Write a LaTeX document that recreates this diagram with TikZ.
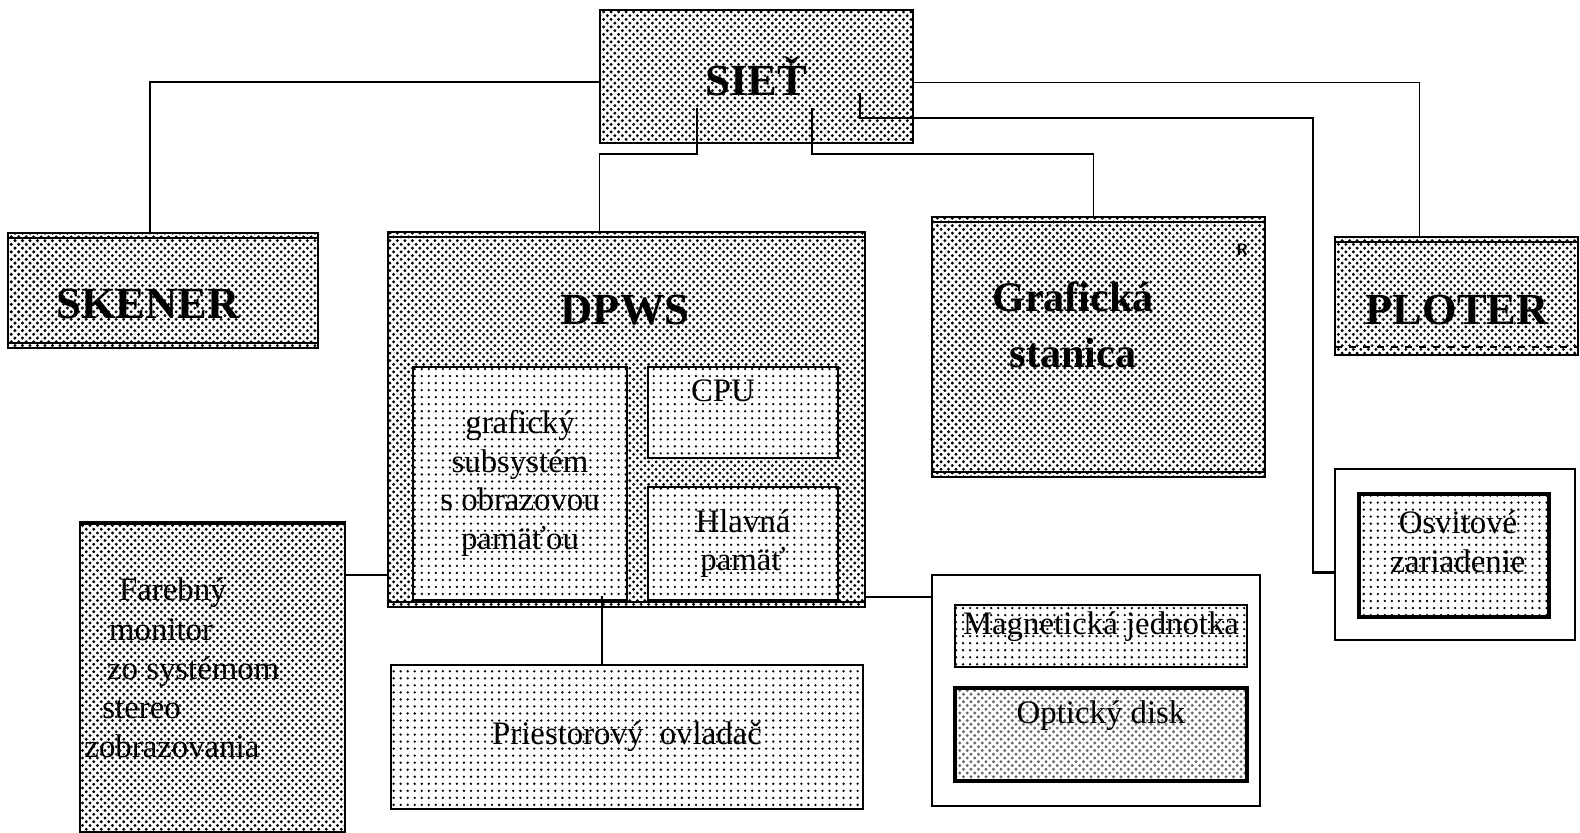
\documentclass[tikz,border=0pt]{standalone}
\usepackage{fontspec}
\setmainfont{Liberation Serif}
\usetikzlibrary{calc,patterns}

\def\pxu{0.015cm}
\newcommand{\headfont}{\fontsize{19}{22}\selectfont\bfseries}
\newcommand{\boxfont}{\fontsize{14}{16.5}\selectfont}

\pgfdeclarepatternformonly{heavy dots}{\pgfqpoint{-1pt}{-1pt}}{\pgfqpoint{4.2pt}{4.2pt}}{\pgfqpoint{3.2pt}{3.2pt}}{%
  \pgfpathcircle{\pgfqpoint{0pt}{0pt}}{0.7pt}%
  \pgfpathcircle{\pgfqpoint{1.6pt}{1.6pt}}{0.7pt}%
  \pgfusepath{fill}}
\pgfdeclarepatternformonly{light dots}{\pgfqpoint{-1pt}{-1pt}}{\pgfqpoint{4pt}{4pt}}{\pgfqpoint{3pt}{3pt}}{%
  \pgfpathcircle{\pgfqpoint{0pt}{0pt}}{0.55pt}%
  \pgfusepath{fill}}

\begin{document}
\begin{tikzpicture}[
    x=0.015cm, y=-0.015cm,
    wh/.style 2 args={minimum width=#1*\pxu, minimum height=#2*\pxu},
    darkbox/.style={draw, line width=1.1pt, inner sep=0pt, outer sep=0pt, preaction={fill=white}, pattern=heavy dots, pattern color=black},
    lightbox/.style={draw, line width=1.1pt, inner sep=0pt, outer sep=0pt, preaction={fill=white}, pattern=light dots, pattern color=black, font=\boxfont, align=center},
    plainbox/.style={draw, line width=1.1pt, inner sep=0pt, outer sep=0pt, fill=white},
    ruled/.style={path picture={
        \draw[line width=0.7pt] ([yshift=-0.075cm]path picture bounding box.north west) -- ([yshift=-0.075cm]path picture bounding box.north east);
        \draw[line width=0.7pt] ([yshift=0.075cm]path picture bounding box.south west) -- ([yshift=0.075cm]path picture bounding box.south east);}},
    dashruled/.style={path picture={
        \draw[line width=0.7pt] ([yshift=-0.075cm]path picture bounding box.north west) -- ([yshift=-0.075cm]path picture bounding box.north east);
        \draw[line width=0.7pt, dashed] ([yshift=0.12cm]path picture bounding box.south west) -- ([yshift=0.12cm]path picture bounding box.south east);}},
    heavytop/.style={path picture={
        \draw[line width=2.4pt] (path picture bounding box.north west) -- (path picture bounding box.north east);}},
    head/.style={font=\headfont, inner sep=0pt},
    txt/.style={font=\boxfont, align=center, inner sep=0pt},
    link/.style={line width=0.8pt}
  ]
    \useasboundingbox[fill=white] (0,0) rectangle (1580,833);

    % network on top
    \node[darkbox, wh={313}{133}, font=\headfont] (siet) at (756.5,76.5) {SIEŤ};

    % scanner and plotter
    \node[darkbox, ruled, wh={310}{115}] (skener) at (163,290.5) {};
    \node[head] (skener-txt) at (148,304) {SKENER};
    \node[darkbox, dashruled, wh={243}{118}] (ploter) at (1456.5,296) {};
    \node[head] (ploter-txt) at (1457,310) {PLOTER};

    % DPWS with its parts
    \node[darkbox, ruled, wh={477}{375}] (dpws) at (626.5,419.5) {};
    \node[head] (dpws-txt) at (625,310) {DPWS};
    \node[lightbox, wh={214}{233}] (gfx) at (520,483.5) {grafický\\subsystém\\s obrazovou\\pamäťou};
    \node[lightbox, wh={190}{91}] (cpu) at (743,412.5) {};
    \node[txt] (cpu-txt) at (723,391) {CPU};
    \node[lightbox, wh={190}{113}] (ram) at (743,543.5) {Hlavná\\pamäť};

    % graphics station
    \node[darkbox, ruled, wh={333}{260}] (graf) at (1098.5,347) {};
    \node[head, align=center, font=\fontsize{18}{24}\selectfont\bfseries] (graf-txt) at (1073,325) {Grafická\\stanica};
    \node[font=\sffamily\bfseries\fontsize{7}{8}\selectfont, inner sep=0pt] (graf-r) at (1242,250) {R};

    % exposure unit
    \node[plainbox, wh={240}{171}] (osvit) at (1455,554.5) {};
    \node[lightbox, line width=1.6pt, wh={190}{123}] (osvit-in) at (1454,555.5) {};
    \node[txt] (osvit-txt) at (1458,542) {Osvitové\\zariadenie};

    % monitor and space controller
    \node[darkbox, heavytop, wh={265}{310}] (monitor) at (212.5,677) {};
    \node[txt, align=left, anchor=west, font=\fontsize{14}{16.7}\selectfont] (monitor-txt) at (84,668)
      {\hspace*{0.52cm}Farebný\\\hspace*{0.37cm}monitor\\\hspace*{0.34cm}zo systémom\\\hspace*{0.27cm}stereo\\zobrazovania};
    \node[lightbox, wh={472}{144}] (priest) at (627,737) {Priestorový~ ovladač};

    % storage
    \node[plainbox, wh={328}{231}] (store) at (1096,690.5) {};
    \node[lightbox, wh={292}{62}] (magnet) at (1101,636) {};
    \node[txt] (magnet-txt) at (1101,627) {Magnetická jednotka};
    \node[lightbox, pattern=heavy dots, pattern color=black!60, line width=1.6pt, wh={292}{93}] (optic) at (1101,734.5) {};
    \node[txt] (optic-txt) at (1101,716) {Optický disk};

    % connectors
    \coordinate (sietA) at (697,108);
    \coordinate (sietB) at (812,108);
    \coordinate (sietR) at (860,93);
    \coordinate (monlink) at ($(monitor.north east)+(0,53)$);
    \coordinate (storelink) at ($(dpws.south east)+(0,-10)$);

    \draw[link] ($(siet.west)+(0,5.5)$) -| ($(skener.north)+(-13,0)$);
    \draw[link] ($(siet.east)+(0,6)$) -| ($(ploter.north)+(-37,0)$);
    \draw[link] (sietA) -- ++(0,46) -| ($(dpws.north)+(-27,0)$);
    \draw[link] (sietB) -- ++(0,46) -| ($(graf.north)+(-5,0)$);
    \draw[link, line width=1.1pt] (sietR) -- ++(0,25) -| ($(osvit.west)+(-22,18)$) -- ($(osvit.west)+(0,18)$);
    \draw[link] (monlink) -- (monlink -| dpws.west);
    \draw[link] ($(gfx.south)+(82,-4)$) -- ($(priest.north)+(-25,0)$);
    \draw[link] (storelink) -- (storelink -| store.west);
  \end{tikzpicture}
\end{document}
